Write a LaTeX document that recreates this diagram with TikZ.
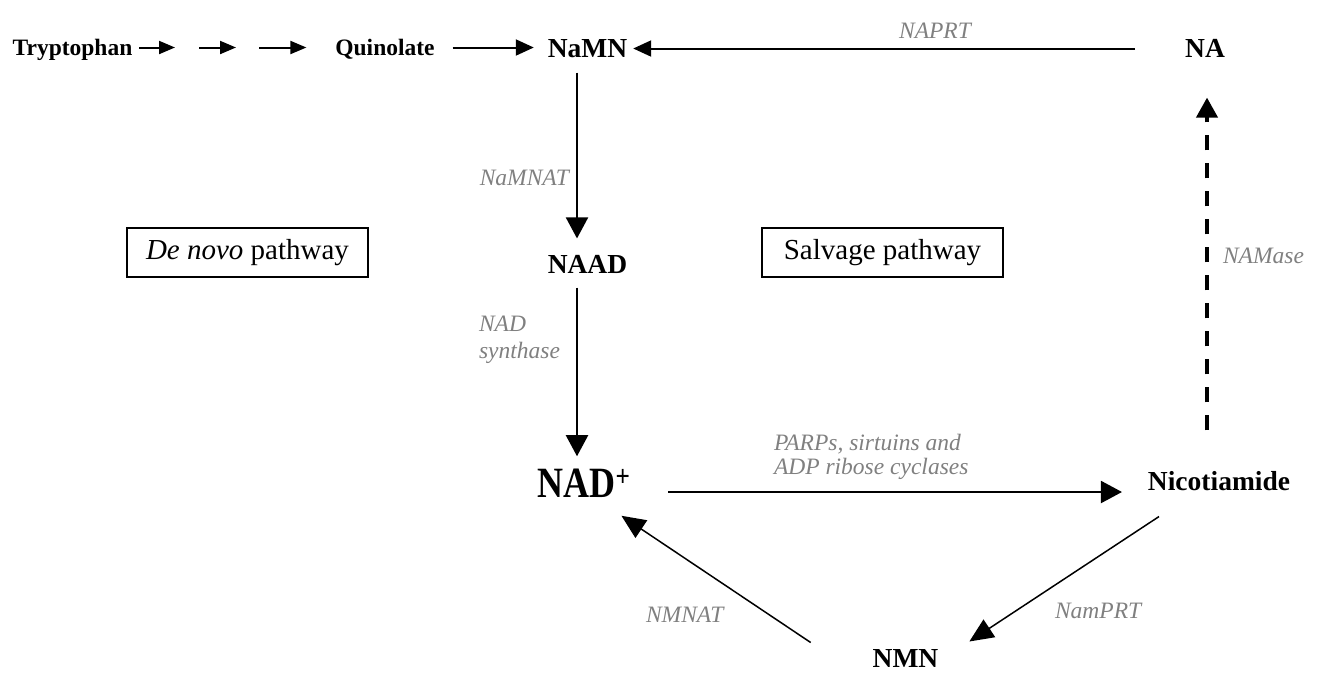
\documentclass[tikz,border=0pt]{standalone}
\usepackage{fontspec}
\setmainfont{Liberation Serif}
\usepackage{graphicx}
\usetikzlibrary{arrows.meta}
\definecolor{enzgray}{RGB}{128,128,128}
\begin{document}
\begin{tikzpicture}[x=1pt,y=-1pt,line width=2pt,->,>={Triangle[length=21pt,width=22pt]},
    main node/.style={inner sep=0pt,text depth=0pt,font=\fontsize{27.5}{30}\selectfont\bfseries},
    first node/.style={inner sep=0pt,text depth=0pt,font=\fontsize{23.5}{27}\selectfont\bfseries},
    enz node/.style={inner sep=0pt,text=enzgray,align=left,font=\fontsize{23.5}{27}\selectfont\itshape},
    box node/.style={draw,line width=1.3pt,minimum width=241pt,minimum height=49pt,font=\fontsize{29}{32}\selectfont},
    small arrow/.style={-{Triangle[length=16pt,width=13pt]}},
    mid arrow/.style={-{Triangle[length=18pt,width=16pt]}}]
  \useasboundingbox (0,0) rectangle (1320,673);
  % metabolites
  \node[first node] (tryp) at (72.5,47.5) {Tryptophan};
  \node[first node] (quin) at (385,47.5) {Quinolate};
  \node[main node] (namn) at (587.5,48.5) {NaMN};
  \node[main node] (na) at (1205,48.5) {NA};
  \node[main node] (naad) at (587.5,264.5) {NAAD};
  \node[main node,font=\fontsize{36}{38}\selectfont\bfseries] (nad) at (584,483.5) {\scalebox{1}[1.2]{NAD\textsuperscript{+}}};
  \node[main node] (nicot) at (1219,481) {Nicotiamide};
  \node[main node] (nmn) at (905.5,658.5) {NMN};
  \coordinate (t1) at (175,47.5);
  \coordinate (t2) at (199,47.5);
  \coordinate (t3) at (236,47.5);
  \coordinate (t4) at (259,47.5);
  % pathway boxes
  \node[box node] (denovo) at (247.5,252.5) {\textit{De novo} pathway};
  \node[box node] (salvage) at (882.5,252.5) {Salvage pathway};
  % enzymes
  \node[enz node,anchor=base] (naprt) at (935,38) {NAPRT};
  \node[enz node,anchor=base east] (namnat) at (570,185) {NaMNAT};
  \node[enz node,anchor=north west] (nadsyn) at (478,315) {NAD\\synthase};
  \node[enz node,anchor=north west,font=\fontsize{23.5}{24}\selectfont\itshape] (parps) at (773,433) {PARPs, sirtuins and\\ADP ribose cyclases};
  \node[enz node,anchor=base west] (namase) at (1222,263) {NAMase};
  \node[enz node,anchor=base west] (namprt) at (1054,618) {NamPRT};
  \node[enz node,anchor=base west] (nmnat) at (645,622) {NMNAT};
  % de novo route
  \path[small arrow,shorten <=6pt] (tryp.east) edge (t1);
  \path[small arrow] (t2) edge (t3);
  \path[small arrow,shorten >=28pt] (t4) edge (quin.west);
  \path[mid arrow,shorten <=17pt,shorten >=13pt] (quin.east) edge (quin.east -| namn.west);
  \path[mid arrow,shorten <=49pt,shorten >=5pt] (na.west) edge (namn.east);
  \path[shorten <=14pt,shorten >=16pt] ([xshift=-10.5pt]namn.south) edge ([xshift=-10.5pt]naad.north);
  \path[shorten <=13pt,shorten >=12pt] ([xshift=-10.5pt]naad.south) edge ([xshift=-7pt]nad.north);
  % salvage route
  \path[shorten <=37pt,shorten >=25pt] ([yshift=-8.5pt]nad.east) edge ([yshift=-11pt]nicot.west);
  \path[line width=4pt,dash pattern=on 15pt off 13pt,-{Triangle[length=20pt,width=21pt]},shorten <=40pt,shorten >=39pt] ([xshift=-12pt]nicot.north) edge ([xshift=2pt]na.south);
  \path[line width=1.5pt,-{Triangle[length=24pt,width=21pt]}] ([xshift=-60pt,yshift=-25pt]nicot.south) edge ([xshift=30pt,yshift=7pt]nmn.north east);
  \path[line width=1.5pt,-{Triangle[length=24pt,width=21pt]}] ([xshift=-61pt,yshift=6pt]nmn.north west) edge ([xshift=-10pt,yshift=-17pt]nad.south east);
\end{tikzpicture}
\end{document}
